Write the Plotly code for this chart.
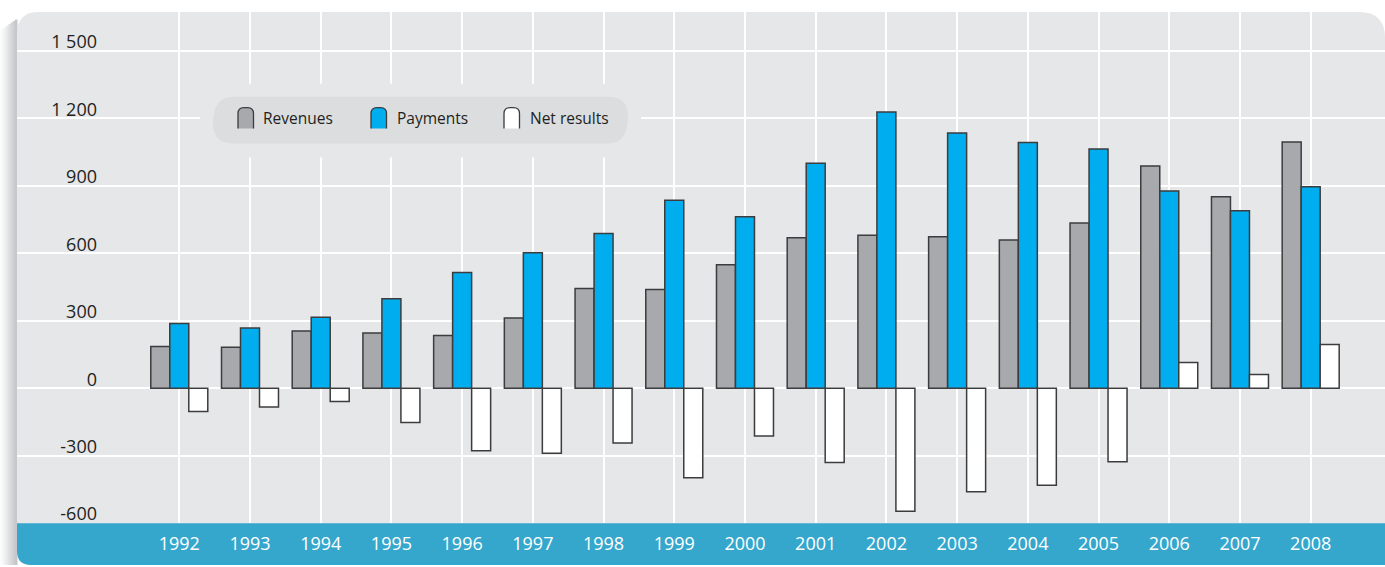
import plotly.graph_objects as go

years = [str(y) for y in range(1992, 2009)]
revenues = [185, 182, 254, 245, 234, 312, 443, 439, 549, 669, 680, 673, 659, 735, 988, 851, 1095]
payments = [288, 268, 316, 398, 514, 602, 688, 836, 762, 1000, 1228, 1135, 1093, 1064, 877, 789, 896]
net_results = [-104, -84, -59, -152, -278, -289, -244, -398, -213, -330, -547, -460, -431, -327, 114, 61, 194]

y_ticks = [-600, -300, 0, 300, 600, 900, 1200, 1500]
y_ticktext = ["-600", "-300", "0", "300", "600", "900", "1 200", "1 500"]

series_names = ["Revenues", "Payments", "Net results"]
series_colors = ["#a7a9ac", "#00aeef", "#ffffff"]

W, H = 1385, 567
FONT = "Open Sans"
TEXT = "#231f20"
PANEL = "#e6e7e9"
BAND = "#36a7cc"


def px(x):
    return x / W


def py(y):
    return 1 - y / H


fig = go.Figure()
for name, vals, col in zip(series_names, [revenues, payments, net_results], series_colors):
    fig.add_trace(go.Bar(
        x=years, y=vals, name=name,
        marker=dict(color=col, line=dict(color="#3c3c3e", width=1.5)),
        showlegend=False,
    ))

shapes = []
# left shadow
shadow_cols = ["#fbfbfb", "#f5f5f6", "#eeeef0", "#e6e7e9", "#dddee0", "#d5d6d8", "#cdced1", "#c6c7ca"]
sw = 17 / len(shadow_cols)
for i, c in enumerate(shadow_cols):
    shapes.append(dict(type="rect", xref="paper", yref="paper",
                       x0=px(i * sw), x1=px((i + 1) * sw + 0.5), y0=py(567), y1=py(30 - i * 1.5),
                       fillcolor=c, line=dict(width=0), layer="below"))

# panel with rounded top corners
r1, r2 = 22, 26
L, T, R, B = 17, 12, 1385, 567
panel_path = (f"M {px(L)},{py(B - 14)} L {px(L)},{py(T + r1)} Q {px(L)},{py(T)} {px(L + r1)},{py(T)} "
              f"L {px(R - r2)},{py(T)} Q {px(R)},{py(T)} {px(R)},{py(T + r2)} L {px(R)},{py(B)} "
              f"L {px(L + 14)},{py(B)} Q {px(L)},{py(B)} {px(L)},{py(B - 14)} Z")
shapes.append(dict(type="path", xref="paper", yref="paper", path=panel_path,
                   fillcolor=PANEL, line=dict(width=0), layer="below"))

# bottom band
band_path = (f"M {px(L)},{py(525)} L {px(R)},{py(525)} L {px(R)},{py(B)} "
             f"L {px(L + 14)},{py(B)} Q {px(L)},{py(B)} {px(L)},{py(B - 14)} Z")
shapes.append(dict(type="path", xref="paper", yref="paper", path=band_path,
                   fillcolor=BAND, line=dict(width=0), layer="below"))

# legend cover and box
shapes.append(dict(type="rect", xref="paper", yref="paper",
                   x0=px(200), x1=px(641), y0=py(158), y1=py(84),
                   fillcolor=PANEL, line=dict(width=0), layer="above"))
lx0, lx1, ly0, ly1, lr = 213, 628, 97, 144, 20
legend_path = (f"M {px(lx0 + lr)},{py(ly0)} L {px(lx1 - lr)},{py(ly0)} Q {px(lx1)},{py(ly0)} {px(lx1)},{py(ly0 + lr)} "
               f"Q {px(lx1)},{py(ly1)} {px(lx1 - lr)},{py(ly1)} L {px(lx0 + lr)},{py(ly1)} "
               f"Q {px(lx0)},{py(ly1)} {px(lx0)},{py(ly1 - lr)} Q {px(lx0)},{py(ly0)} {px(lx0 + lr)},{py(ly0)} Z")
shapes.append(dict(type="path", xref="paper", yref="paper", path=legend_path,
                   fillcolor="#dcdddf", line=dict(width=0), layer="above"))

annotations = []
glyph_x = [238, 371, 504]
text_x = [261, 395, 528]
gw, gt, gb, gr = 15.5, 108, 129, 6
for gx, tx, name, col in zip(glyph_x, text_x, series_names, series_colors):
    x0, x1 = gx, gx + gw
    fill_path = (f"M {px(x0)},{py(gb)} L {px(x0)},{py(gt + gr)} Q {px(x0)},{py(gt)} {px(x0 + gr)},{py(gt)} "
                 f"L {px(x1 - gr)},{py(gt)} Q {px(x1)},{py(gt)} {px(x1)},{py(gt + gr)} L {px(x1)},{py(gb)} Z")
    shapes.append(dict(type="path", xref="paper", yref="paper", path=fill_path,
                       fillcolor=col, line=dict(width=0), layer="above"))
    out_path = (f"M {px(x0)},{py(gb)} L {px(x0)},{py(gt + gr)} Q {px(x0)},{py(gt)} {px(x0 + gr)},{py(gt)} "
                f"L {px(x1 - gr)},{py(gt)} Q {px(x1)},{py(gt)} {px(x1)},{py(gt + gr)} L {px(x1)},{py(gb)}")
    shapes.append(dict(type="path", xref="paper", yref="paper", path=out_path,
                       fillcolor="rgba(0,0,0,0)", line=dict(color="#3c3c3e", width=1.3), layer="above"))
    annotations.append(dict(xref="paper", yref="paper", x=px(tx), y=py(118), xanchor="left", yanchor="middle",
                            text=name, showarrow=False, font=dict(family=FONT, size=15.5, color=TEXT)))

fig.update_layout(
    width=W, height=H,
    margin=dict(l=0, r=0, t=0, b=0),
    paper_bgcolor="white",
    plot_bgcolor="rgba(0,0,0,0)",
    barmode="group", bargap=0.194, bargroupgap=0,
    shapes=shapes,
    annotations=annotations,
    xaxis=dict(
        type="category", categoryorder="array", categoryarray=years,
        domain=[px(17), 1], range=[-2.295, 17.051],
        showgrid=True, gridcolor="white", gridwidth=2,
        showline=False, zeroline=False, ticks="",
        tickfont=dict(family=FONT, size=18, color="white"),
        ticklabelstandoff=8,
    ),
    yaxis=dict(
        domain=[1 - 525 / H, 1 - 12 / H], range=[-600, 1673],
        tickvals=y_ticks, ticktext=y_ticktext,
        anchor="free", position=px(97),
        showgrid=True, gridcolor="white", gridwidth=2,
        showline=False, zeroline=False, ticks="",
        tickfont=dict(family=FONT, size=18, color=TEXT),
        ticklabelshift=-9,
    ),
)

fig.write_html(
    "out.html",
    config={"displayModeBar": False},
    post_script="document.body.style.margin='0';document.body.style.overflow='hidden';",
)
